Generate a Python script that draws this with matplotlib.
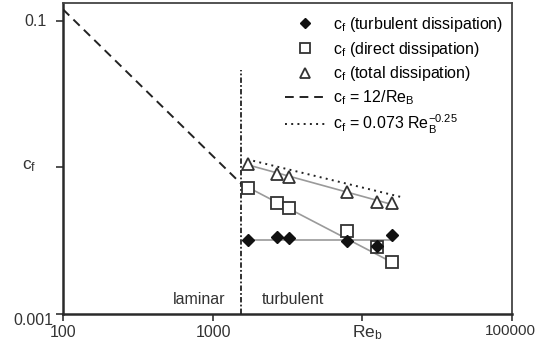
import numpy as np
import matplotlib
matplotlib.use("Agg")
import matplotlib.pyplot as plt

plt.rcParams['font.family'] = ['Liberation Sans', 'DejaVu Sans']
plt.rcParams['mathtext.fontset'] = 'custom'
plt.rcParams['mathtext.rm'] = 'Liberation Sans'
plt.rcParams['mathtext.it'] = 'Liberation Sans'
plt.rcParams['mathtext.bf'] = 'Liberation Sans:bold'

# ---- data ----
re_data = [1730, 2680, 3230, 7860, 12460, 15700]
cf_turbulent = [0.0032, 0.00334, 0.00332, 0.00316, 0.00291, 0.00346]
cf_direct = [0.00721, 0.00575, 0.00527, 0.00369, 0.00288, 0.00228]
cf_total = [0.01056, 0.00903, 0.00865, 0.00677, 0.00579, 0.0057]

trend_re = [1730, 15700]
trend_turbulent = [0.00322, 0.00322]
trend_direct = [0.0073, 0.00226]
trend_total = [0.0104, 0.0056]

laminar_re = [100, 1550]
turb_law_re = [1700, 19000]
re_transition = 1540
transition_top = 0.046

xticks = [100, 1000, 10000, 100000]
xticklabels = ['100', '1000', r'$\mathregular{Re_b}$', '100000']
yticks = [0.001, 0.01, 0.1]
yticklabels = ['0.001', r'$\mathregular{c_f}$', '0.1']

W, H = 537, 349
fig = plt.figure(figsize=(W/100, H/100), dpi=100)
ax = fig.add_axes([63/W, 1-314/H, 449/W, (314-3.3)/H])
ax.set_xscale('log')
ax.set_yscale('log')
ax.set_xlim(100, 100000)
ax.set_ylim(0.001, 0.132)

gray = '#9a9a9a'
ax.plot(trend_re, trend_total, color=gray, lw=1.2, zorder=2)
ax.plot(trend_re, trend_direct, color=gray, lw=1.2, zorder=2)
ax.plot(trend_re, trend_turbulent, color=gray, lw=1.2, zorder=2)

lam = np.array(laminar_re, dtype=float)
ax.plot(lam, 12/lam, color='#222222', ls=(0, (4.5, 3)), lw=1.4,
        label=r'$\mathregular{c_f}$ = 12/Re$_\mathregular{B}$', zorder=3)
tl = np.array(turb_law_re, dtype=float)
ax.plot(tl, 0.073*tl**-0.25, color='#222222', ls=(0, (1, 2.2)), lw=1.4,
        label=r'$\mathregular{c_f}$ = 0.073 Re$_\mathregular{B}^\mathregular{-0.25}$', zorder=3)

ax.plot([re_transition, re_transition], [0.001, transition_top], color='#222222',
        ls=(0, (3, 1.2, 1, 1.2)), lw=1.3, zorder=3)

ax.plot(re_data, cf_turbulent, ls='none', marker='D', ms=6.5, mfc='#111111', mec='#111111',
        label=r'$\mathregular{c_f}$ (turbulent dissipation)', zorder=5)
ax.plot(re_data, cf_direct, ls='none', marker='s', ms=8, mfc='white', mec='#333333', mew=1.3,
        label=r'$\mathregular{c_f}$ (direct dissipation)', zorder=4)
ax.plot(re_data, cf_total, ls='none', marker='^', ms=8.5, mfc='white', mec='#333333', mew=1.3,
        label=r'$\mathregular{c_f}$ (total dissipation)', zorder=4)

handles, labels = ax.get_legend_handles_labels()
order = [2, 3, 4, 0, 1]
ax.legend([handles[i] for i in order], [labels[i] for i in order],
          loc='upper left', bbox_to_anchor=((285-63)/449, (314-15)/310.7),
          frameon=False, fontsize=11.5, handlelength=2.5, handletextpad=0.5,
          labelspacing=0.35, borderpad=0, borderaxespad=0, markerscale=0.85)

ax.set_xticks(xticks)
ax.set_xticklabels([''] * len(xticks))
ax.set_yticks(yticks)
ax.set_yticklabels([''] * len(yticks))
ax.minorticks_off()
ax.tick_params(axis='both', which='major', length=5, width=1.2,
               color='#333333', direction='out')

# tick labels placed where the reference shows them (pixel positions)
tc = '#333333'
fs = 11.5
def ftext(px, py, s, **kw):
    fig.text(px/W, 1-py/H, s, fontsize=kw.pop('fontsize', fs), color=tc, **kw)

ftext(47, 26.5, yticklabels[2], ha='right', va='baseline')
ftext(36, 169.5, yticklabels[1], ha='right', va='baseline', fontsize=12.5)
ftext(53, 325, yticklabels[0], ha='right', va='baseline')
ftext(63.5, 337, xticklabels[0], ha='center', va='baseline')
ftext(213.5, 337, xticklabels[1], ha='center', va='baseline')
ftext(352, 337, xticklabels[2], ha='left', va='baseline', fontsize=12.5)
ftext(536, 335, xticklabels[3], ha='right', va='baseline', fontsize=11)

for side in ['left', 'bottom']:
    ax.spines[side].set_linewidth(1.8)
    ax.spines[side].set_color('#2a2a2a')
for side in ['top', 'right']:
    ax.spines[side].set_linewidth(1.3)
    ax.spines[side].set_color('#444444')

ax.text(1210, 0.00125, 'laminar', ha='right', va='center', fontsize=fs, color=tc)
ax.text(2130, 0.00125, 'turbulent', ha='left', va='center', fontsize=fs, color=tc)

fig.savefig('out.png', dpi=100)
